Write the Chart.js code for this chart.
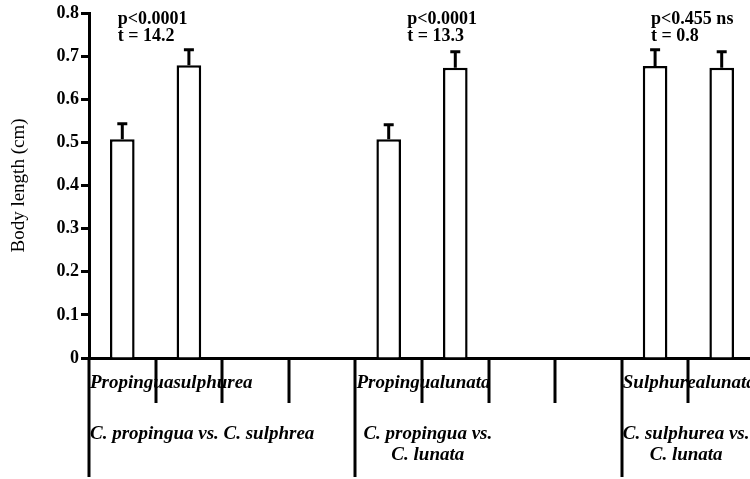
<!DOCTYPE html>
<html>
<head>
<meta charset="utf-8">
<script src="https://cdn.jsdelivr.net/npm/chart.js@4/dist/chart.umd.min.js"></script>
<style>
  html, body { margin: 0; padding: 0; background: #fff; overflow: hidden; }
  #wrap { width: 750px; height: 479px; overflow: hidden; }
</style>
</head>
<body>
<div id="wrap"><canvas id="chart" width="760" height="479"></canvas></div>
<script>
// one slot per category position; empty slots are the gaps between comparisons
const slots = ['Propingua', 'sulphurea', '', '', 'Propingua', 'lunata', '', '', 'Sulphurea', 'lunata'];
const means = [0.507, 0.679, null, null, 0.507, 0.673, null, null, 0.677, 0.673];
const sems  = [0.036, 0.036, null, null, 0.034, 0.037, null, null, 0.038, 0.037];

const groupStart = [0, 4, 8];
const groupNames = [
  ['C. propingua vs. C. sulphrea'],
  ['C. propingua vs.', 'C. lunata'],
  ['C. sulphurea vs.', 'C. lunata']
];
const stats = [
  ['p<0.0001', 't = 14.2'],
  ['p<0.0001', 't = 13.3'],
  ['p<0.455 ns', 't = 0.8']
];

const SERIF = "'Liberation Serif', 'Times New Roman', serif";

const errorBars = {
  id: 'errorBars',
  afterDatasetsDraw(chart) {
    const ctx = chart.ctx, y = chart.scales.y;
    const meta = chart.getDatasetMeta(0);
    ctx.save();
    ctx.strokeStyle = '#000';
    ctx.lineWidth = 3;
    meta.data.forEach((bar, i) => {
      if (means[i] == null) return;
      const top = y.getPixelForValue(means[i] + sems[i]);
      ctx.beginPath();
      ctx.moveTo(bar.x, bar.y);
      ctx.lineTo(bar.x, top);
      ctx.moveTo(bar.x - 5, top);
      ctx.lineTo(bar.x + 5, top);
      ctx.stroke();
    });
    ctx.restore();
  }
};

const annotations = {
  id: 'annotations',
  afterDraw(chart) {
    const ctx = chart.ctx, x = chart.scales.x, area = chart.chartArea;
    ctx.save();
    ctx.fillStyle = '#000';

    // p / t values above each pair
    const statX = [-0.07, 4.28, 7.94];
    ctx.font = 'bold 18px ' + SERIF;
    ctx.textAlign = 'left';
    ctx.textBaseline = 'alphabetic';
    stats.forEach((s, g) => {
      const px = x.getPixelForValue(statX[g]);
      ctx.fillText(s[0], px, area.top + 11);
      ctx.fillText(s[1], px, area.top + 28);
    });

    // category labels (first row) and group labels (second row)
    ctx.font = 'italic bold 19px ' + SERIF;
    const indent = [1, 8, 1];
    groupStart.forEach((s, g) => {
      const left = x.getPixelForValue(s - 0.5);
      let px = left + 1;
      ctx.textAlign = 'left';
      [slots[s], slots[s + 1]].forEach(t => {
        ctx.fillText(t, px, area.bottom + 30);
        px += ctx.measureText(t).width;
      });
      const lines = groupNames[g];
      const w0 = ctx.measureText(lines[0]).width;
      const lx = left + indent[g];
      ctx.textAlign = 'left';
      ctx.fillText(lines[0], lx, area.bottom + 81);
      if (lines[1]) {
        ctx.textAlign = 'center';
        ctx.fillText(lines[1], lx + w0 / 2, area.bottom + 102);
      }
    });

    // tick marks below the axis, long ones at the start of each comparison
    ctx.strokeStyle = '#000';
    ctx.lineWidth = 3;
    for (let i = 0; i <= slots.length; i++) {
      const px = Math.round(x.getPixelForValue(i - 0.5));
      const len = groupStart.includes(i) ? 119 : 45;
      ctx.beginPath();
      ctx.moveTo(px, area.bottom);
      ctx.lineTo(px, area.bottom + len);
      ctx.stroke();
    }
    ctx.restore();
  }
};

new Chart(document.getElementById('chart'), {
  type: 'bar',
  data: {
    labels: slots,
    datasets: [{
      data: means,
      backgroundColor: '#fff',
      borderColor: '#000',
      borderWidth: 2.5,
      categoryPercentage: 1,
      barPercentage: 0.37
    }]
  },
  options: {
    responsive: false,
    animation: false,
    devicePixelRatio: 1,
    layout: { padding: { top: 13, right: 5, left: 0, bottom: 0 } },
    plugins: { legend: { display: false }, tooltip: { enabled: false } },
    scales: {
      x: {
        grid: { display: false },
        ticks: { display: false },
        border: { display: true, color: '#000', width: 3 },
        afterFit(scale) { scale.height = 121; }
      },
      y: {
        min: 0,
        max: 0.8,
        ticks: {
          stepSize: 0.1,
          color: '#000',
          padding: 2,
          font: { family: SERIF, size: 18, weight: 'bold' },
          callback: v => v === 0 ? '0' : v.toFixed(1)
        },
        grid: { drawOnChartArea: false, tickLength: 8, tickWidth: 3, tickColor: '#000' },
        border: { display: true, color: '#000', width: 3 },
        title: {
          display: true,
          text: 'Body length (cm)',
          color: '#000',
          font: { family: SERIF, size: 19 },
          padding: { top: 8, bottom: 0 }
        },
        afterFit(scale) { scale.width = 89; }
      }
    }
  },
  plugins: [errorBars, annotations]
});
</script>
</body>
</html>
